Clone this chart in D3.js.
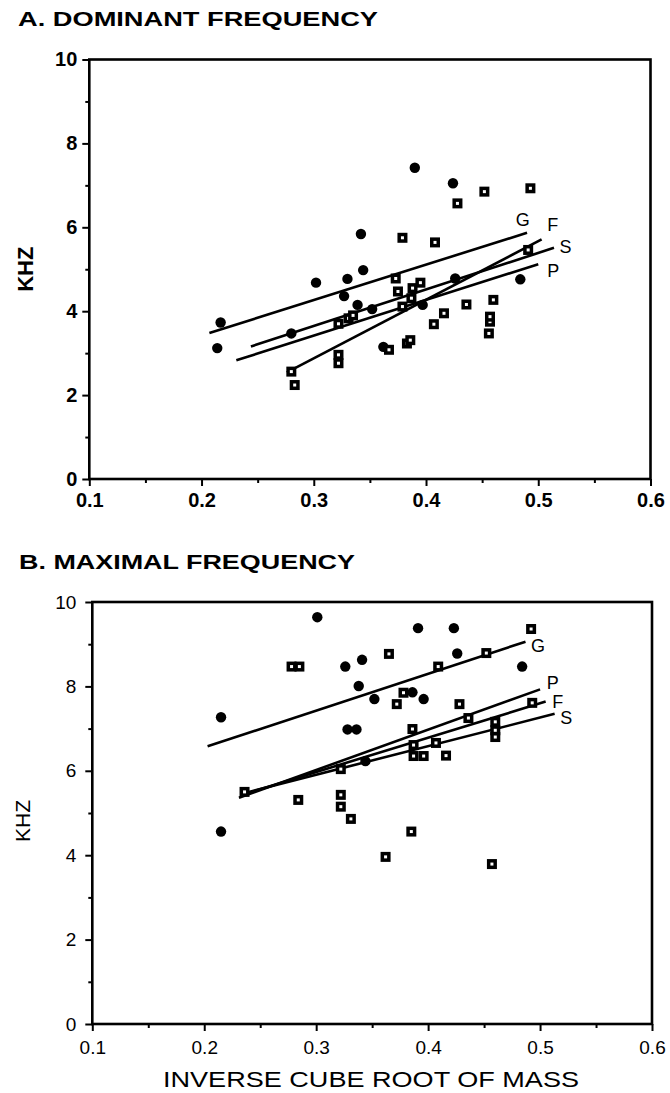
<!DOCTYPE html>
<html>
<head>
<meta charset="utf-8">
<script src="https://cdn.jsdelivr.net/npm/d3@7"></script>
<style>
  body { margin: 0; background: #fff; }
  text { font-family: "Liberation Sans", Arial, sans-serif; fill: #000; }
</style>
</head>
<body>
<div id="chart"></div>
<script>
// data: x = inverse cube root of mass, y = kHz

// A. dominant frequency
var domCircles = [
  [0.217, 3.73], [0.214, 3.12], [0.280, 3.47], [0.302, 4.68], [0.330, 4.77],
  [0.327, 4.36], [0.342, 5.84], [0.344, 4.98], [0.339, 4.15], [0.352, 4.05],
  [0.362, 3.15], [0.390, 7.42], [0.397, 4.15], [0.424, 7.05], [0.426, 4.78],
  [0.484, 4.76]
];
var domSquares = [
  [0.280, 2.56], [0.283, 2.24], [0.322, 2.96], [0.322, 2.76], [0.322, 3.70],
  [0.331, 3.83], [0.335, 3.90], [0.367, 3.08], [0.373, 4.78], [0.375, 4.47],
  [0.379, 5.75], [0.379, 4.11], [0.383, 3.23], [0.386, 3.31], [0.387, 4.31],
  [0.388, 4.55], [0.395, 4.68], [0.407, 3.69], [0.408, 5.64], [0.416, 3.95],
  [0.428, 6.57], [0.436, 4.16], [0.452, 6.85], [0.456, 3.47], [0.457, 3.75],
  [0.457, 3.87], [0.460, 4.27], [0.491, 5.46], [0.493, 6.93]
];
var domLines = [
  { label: "G", x1: 0.207, y1: 3.48, x2: 0.490, y2: 5.87, lx: 0.480, ly: 6.03 },
  { label: "F", x1: 0.276, y1: 2.54, x2: 0.503, y2: 5.71, lx: 0.508, ly: 5.91 },
  { label: "S", x1: 0.244, y1: 3.16, x2: 0.514, y2: 5.51, lx: 0.519, ly: 5.39 },
  { label: "P", x1: 0.231, y1: 2.83, x2: 0.500, y2: 5.12, lx: 0.508, ly: 4.82 }
];

// B. maximal frequency
var maxCircles = [
  [0.215, 7.27], [0.215, 4.56], [0.301, 9.64], [0.326, 8.47], [0.341, 8.63],
  [0.338, 8.01], [0.352, 7.70], [0.328, 6.98], [0.336, 6.98], [0.344, 6.23],
  [0.391, 9.38], [0.423, 9.38], [0.426, 8.78], [0.386, 7.86], [0.396, 7.70],
  [0.484, 8.47]
];
var maxSquares = [
  [0.236, 5.50], [0.278, 8.47], [0.285, 8.47], [0.284, 5.31], [0.322, 6.04],
  [0.322, 5.43], [0.322, 5.15], [0.331, 4.86], [0.362, 3.96], [0.365, 8.77],
  [0.372, 7.58], [0.378, 7.85], [0.385, 4.56], [0.386, 6.99], [0.387, 6.61],
  [0.387, 6.35], [0.396, 6.35], [0.407, 6.66], [0.409, 8.47], [0.416, 6.36],
  [0.428, 7.58], [0.436, 7.25], [0.452, 8.79], [0.457, 3.79], [0.460, 7.16],
  [0.460, 6.96], [0.460, 6.80], [0.492, 9.36], [0.493, 7.61]
];
var maxLines = [
  { label: "G", x1: 0.203, y1: 6.58, x2: 0.487, y2: 9.06, lx: 0.492, ly: 8.81 },
  { label: "P", x1: 0.231, y1: 5.36, x2: 0.500, y2: 7.93, lx: 0.506, ly: 7.95 },
  { label: "F", x1: 0.236, y1: 5.45, x2: 0.505, y2: 7.64, lx: 0.511, ly: 7.50 },
  { label: "S", x1: 0.240, y1: 5.50, x2: 0.513, y2: 7.35, lx: 0.518, ly: 7.10 }
];

var xTicks = [0.1, 0.2, 0.3, 0.4, 0.5, 0.6];
var xMinor = [0.15, 0.25, 0.35, 0.45, 0.55];
var yTicks = [0, 2, 4, 6, 8, 10];
var yMinor = [1, 3, 5, 7, 9];

var svg = d3.select("#chart").append("svg")
    .attr("width", 670)
    .attr("height", 1093);

function drawPanel(p) {
  var x = d3.scaleLinear().domain([0.1, 0.6]).range([p.left, p.right]);
  var y = d3.scaleLinear().domain([0, 10]).range([p.bottom, p.top]);
  var g = svg.append("g");

  // title
  g.append("text")
    .attr("x", p.titleX).attr("y", p.titleY)
    .attr("textLength", p.titleW).attr("lengthAdjust", "spacingAndGlyphs")
    .style("font-size", "21px").style("font-weight", "bold")
    .text(p.title);

  // minor ticks
  g.append("g").attr("transform", "translate(" + p.left + ",0)")
    .call(d3.axisLeft(y).tickValues(yMinor).tickSize(4).tickFormat(""));
  g.append("g").attr("transform", "translate(0," + p.bottom + ")")
    .call(d3.axisBottom(x).tickValues(xMinor).tickSize(4).tickFormat(""));

  // major ticks + labels
  var ya = g.append("g").attr("transform", "translate(" + p.left + ",0)")
    .call(d3.axisLeft(y).tickValues(yTicks).tickSize(7).tickPadding(p.yPad).tickFormat(d3.format("d")));
  var xa = g.append("g").attr("transform", "translate(0," + p.bottom + ")")
    .call(d3.axisBottom(x).tickValues(xTicks).tickSize(7).tickPadding(p.xPad).tickFormat(d3.format(".1f")));

  g.selectAll(".domain").remove();
  g.selectAll(".tick line").attr("stroke", "#000").attr("stroke-width", 2);
  [ya, xa].forEach(function(a) {
    a.selectAll("text")
      .style("font-family", "'Liberation Sans', Arial, sans-serif")
      .style("font-size", p.tickFont + "px")
      .style("font-weight", p.tickWeight)
      .attr("fill", "#000");
  });

  // frame
  g.append("rect")
    .attr("x", p.left).attr("y", p.top)
    .attr("width", p.right - p.left).attr("height", p.bottom - p.top)
    .attr("fill", "none").attr("stroke", "#000").attr("stroke-width", 2.6);

  // y title
  g.append("text")
    .attr("transform", "translate(" + p.yTitleX + "," + ((p.top + p.bottom) / 2 + p.yTitleDy) + ") rotate(-90)")
    .attr("text-anchor", "middle")
    .style("font-size", p.yTitleFont + "px").style("font-weight", p.yTitleWeight)
    .text("KHZ");

  // regression lines
  g.selectAll(".fit").data(p.lines).enter().append("line")
    .attr("x1", function(d) { return x(d.x1); })
    .attr("y1", function(d) { return y(d.y1); })
    .attr("x2", function(d) { return x(d.x2); })
    .attr("y2", function(d) { return y(d.y2); })
    .attr("stroke", "#000").attr("stroke-width", 2.6);

  g.selectAll(".lbl").data(p.lines).enter().append("text")
    .attr("x", function(d) { return x(d.lx); })
    .attr("y", function(d) { return y(d.ly); })
    .style("font-size", "18px")
    .text(function(d) { return d.label; });

  // points
  g.selectAll(".c").data(p.circles).enter().append("circle")
    .attr("cx", function(d) { return x(d[0]); })
    .attr("cy", function(d) { return y(d[1]); })
    .attr("r", 5.2).attr("fill", "#000");

  var sq = g.selectAll(".s").data(p.squares).enter().append("g")
    .attr("transform", function(d) { return "translate(" + x(d[0]) + "," + y(d[1]) + ")"; });
  sq.append("rect").attr("x", -5).attr("y", -5).attr("width", 10).attr("height", 10).attr("fill", "#000");
  sq.append("rect").attr("x", -1.5).attr("y", -1.5).attr("width", 3).attr("height", 3).attr("fill", "#fff");
}

drawPanel({
  title: "A. DOMINANT FREQUENCY", titleX: 18, titleY: 26, titleW: 360,
  left: 89.3, right: 650.5, top: 59.5, bottom: 479,
  yPad: 5, xPad: 7, tickFont: 20, tickWeight: "bold",
  yTitleX: 33, yTitleDy: 0, yTitleFont: 22, yTitleWeight: "bold",
  circles: domCircles, squares: domSquares, lines: domLines
});

drawPanel({
  title: "B. MAXIMAL FREQUENCY", titleX: 19, titleY: 569, titleW: 336,
  left: 92.3, right: 652, top: 602, bottom: 1024,
  yPad: 9, xPad: 10, tickFont: 19, tickWeight: "normal",
  yTitleX: 30, yTitleDy: 8, yTitleFont: 21, yTitleWeight: "normal",
  circles: maxCircles, squares: maxSquares, lines: maxLines
});

svg.append("text")
  .attr("x", 163).attr("y", 1087)
  .attr("textLength", 416).attr("lengthAdjust", "spacingAndGlyphs")
  .style("font-size", "22px")
  .text("INVERSE CUBE ROOT OF MASS");
</script>
</body>
</html>
